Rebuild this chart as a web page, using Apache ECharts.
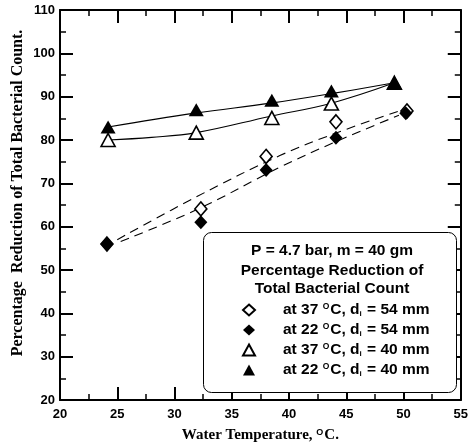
<!DOCTYPE html>
<html>
<head>
<meta charset="utf-8">
<script src="https://cdn.jsdelivr.net/npm/echarts@6/dist/echarts.min.js"></script>
<style>html,body{margin:0;padding:0;background:#fff}#c{width:471px;height:448px}</style>
</head>
<body>
<div id="c"></div>
<script>
// ---- data ----
const xTicks = [20, 25, 30, 35, 40, 45, 50, 55];
const yTicks = [20, 30, 40, 50, 60, 70, 80, 90, 100, 110];

const tempD37 = [24.1, 32.3, 38.0, 44.1, 50.3];
const redD37  = [56.0, 64.1, 76.2, 84.2, 86.7];
const tempD22 = [24.1, 32.3, 38.0, 44.1, 50.2];
const redD22  = [56.0, 61.0, 73.1, 80.5, 86.2];
const tempT37 = [24.2, 31.9, 38.5, 43.7, 49.2];
const redT37  = [80.0, 81.7, 85.1, 88.4, 93.2];
const tempT22 = [24.2, 31.9, 38.5, 43.7, 49.2];
const redT22  = [83.0, 87.0, 89.2, 91.3, 93.2];

// fitted curves
const fitD37x = [25.0, 32.0, 39.2, 44.0, 49.5];
const fitD37y = [57.0, 67.0, 76.4, 81.5, 86.6];
const fitD22x = [25.3, 32.0, 39.2, 44.0, 49.6];
const fitD22y = [56.6, 64.0, 73.7, 79.5, 85.7];
const fitT37x = [24.2, 28.0, 31.9, 38.4, 43.7, 49.2];
const fitT37y = [80.0, 80.6, 81.7, 85.5, 88.5, 93.2];
const fitT22x = [24.2, 31.8, 38.4, 43.7, 49.2];
const fitT22y = [83.0, 86.2, 88.5, 90.7, 93.2];

const names = ['at 37 °C, di = 54 mm', 'at 22 °C, di = 54 mm', 'at 37 °C, di = 40 mm', 'at 22 °C, di = 40 mm'];
const richNames = {
  'at 37 °C, di = 54 mm': 'at 37 {sup|O}C, d{sub|i} = 54 mm',
  'at 22 °C, di = 54 mm': 'at 22 {sup|O}C, d{sub|i} = 54 mm',
  'at 37 °C, di = 40 mm': 'at 37 {sup|O}C, d{sub|i} = 40 mm',
  'at 22 °C, di = 40 mm': 'at 22 {sup|O}C, d{sub|i} = 40 mm'
};

const zip = (a, b) => a.map((v, i) => [v, b[i]]);
const sans = '"Liberation Sans", Arial, sans-serif';
const serif = '"Liberation Serif", "Times New Roman", serif';

function axisCommon(show) {
  return {
    axisLine: { show: true, onZero: false, lineStyle: { color: '#000', width: 2 } },
    axisTick: { show: true, inside: true, length: 13, lineStyle: { color: '#000', width: 2 } },
    minorTick: { show: true, splitNumber: 2, length: 6, lineStyle: { color: '#000', width: 1.5 } },
    splitLine: { show: false },
    minorSplitLine: { show: false },
    axisLabel: { show: show, color: '#000', fontFamily: sans, fontWeight: 'bold', fontSize: 13 }
  };
}

const chart = echarts.init(document.getElementById('c'), null, { renderer: 'canvas' });

function fitLine(x, y, dashed) {
  return {
    type: 'line', data: zip(x, y), smooth: 0.4, showSymbol: false, symbol: 'none',
    silent: true, z: 2, legendHoverLink: false,
    lineStyle: { color: '#000', width: 1.1, type: dashed ? [9, 6] : 'solid' }
  };
}
function marks(name, x, y, symbol, size, filled, z) {
  return {
    name: name, type: 'scatter', data: zip(x, y), symbol: symbol, symbolSize: size, z: z,
    itemStyle: { color: filled ? '#000' : '#fff', borderColor: '#000', borderWidth: filled ? 0 : 1.6, opacity: 1 }
  };
}

chart.setOption({
  animation: false,
  backgroundColor: '#fff',
  grid: { left: 60, right: 8, top: 10, bottom: 42 },
  xAxis: [
    Object.assign({ type: 'value', min: 20, max: 55, interval: 5, position: 'bottom',
      name: 'Water Temperature, {sup|O}C.', nameLocation: 'middle', nameGap: 28,
      nameTextStyle: { color: '#000', fontFamily: serif, fontWeight: 'bold', fontSize: 15,
        rich: { sup: { fontFamily: sans, fontSize: 9, verticalAlign: 'top', lineHeight: 14, padding: [0, 1, 6, 0] } } }
    }, axisCommon(true), { axisLabel: { show: true, color: '#000', fontFamily: sans, fontWeight: 'bold', fontSize: 13, margin: 8,
      formatter: v => xTicks.includes(v) ? String(v) : '' } }),
    Object.assign({ type: 'value', min: 20, max: 55, interval: 5, position: 'top' }, axisCommon(false))
  ],
  yAxis: [
    Object.assign({ type: 'value', min: 20, max: 110, interval: 10, position: 'left' }, axisCommon(true),
      { axisLabel: { show: true, color: '#000', fontFamily: sans, fontWeight: 'bold', fontSize: 13, margin: 5,
        formatter: v => yTicks.includes(v) ? String(v) : '' } }),
    Object.assign({ type: 'value', min: 20, max: 110, interval: 10, position: 'right' }, axisCommon(false))
  ],
  legend: {
    show: true, orient: 'vertical', left: 237, top: 297, z: 80, zlevel: 0,
    itemWidth: 12, itemHeight: 11, itemGap: 4,
    data: names,
    formatter: n => richNames[n],
    textStyle: { color: '#000', fontFamily: sans, fontWeight: 'bold', fontSize: 15.5, padding: [0, 0, 0, 23],
      rich: {
        sup: { fontFamily: sans, fontWeight: 'bold', fontSize: 8.5, verticalAlign: 'top', padding: [0, 1, 5, 0] },
        sub: { fontFamily: sans, fontWeight: 'bold', fontSize: 8, verticalAlign: 'bottom', padding: [5, 1, 0, 0] }
      } },
    selectedMode: false
  },
  graphic: [
    { type: 'rect', left: 203, top: 232, z: 50, shape: { width: 253, height: 160, r: 8 },
      style: { fill: '#fff', stroke: '#000', lineWidth: 1 } },
    { type: 'text', x: 332, y: 251, z: 51, style: { text: 'P = 4.7 bar, m = 40 gm', fill: '#000', font: 'bold 15.5px ' + sans, textAlign: 'center', textVerticalAlign: 'middle' } },
    { type: 'text', x: 332, y: 271, z: 51, style: { text: 'Percentage Reduction of', fill: '#000', font: 'bold 15.5px ' + sans, textAlign: 'center', textVerticalAlign: 'middle' } },
    { type: 'text', x: 332, y: 289, z: 51, style: { text: 'Total Bacterial Count', fill: '#000', font: 'bold 15.5px ' + sans, textAlign: 'center', textVerticalAlign: 'middle' } },
    { type: 'text', x: 18, y: 193, rotation: Math.PI / 2, z: 51,
      style: { text: 'Percentage  Reduction of Total Bacterial Count.', fill: '#000', font: 'bold 16px ' + serif, textAlign: 'center', textVerticalAlign: 'middle' } }
  ],
  series: [
    fitLine(fitD37x, fitD37y, true),
    fitLine(fitD22x, fitD22y, true),
    fitLine(fitT37x, fitT37y, false),
    fitLine(fitT22x, fitT22y, false),
    marks(names[0], tempD37, redD37, 'diamond', [12, 14], false, 4),
    marks(names[2], tempT37, redT37, 'triangle', [14, 13], false, 4),
    marks(names[1], tempD22, redD22, 'diamond', [13, 14], true, 5),
    marks(names[3], tempT22, redT22, 'triangle', [15, 13], true, 5)
  ]
});
</script>
</body>
</html>
